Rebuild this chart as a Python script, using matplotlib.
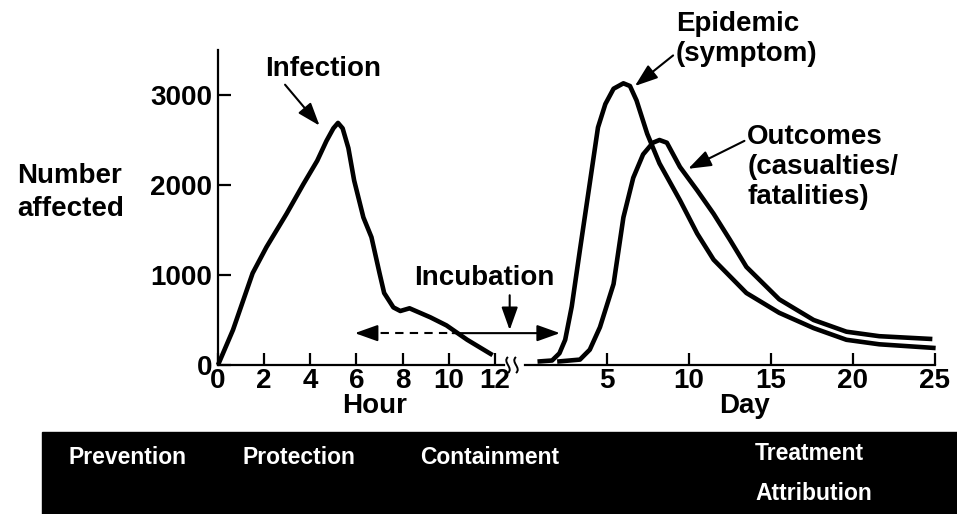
from matplotlib import pyplot as plt
from matplotlib.patches import Rectangle, PathPatch
from matplotlib.path import Path

# hours after release, number affected
infection_hours = [0, 0.65, 1.5, 2.1, 2.97, 3.7, 4.3, 4.7, 5.0, 5.2, 5.4, 5.65, 5.9,
                   6.3, 6.65, 7.0, 7.2, 7.6, 7.9, 8.3, 9.2, 9.9, 10.8, 11.9]
infection_counts = [0, 390, 1020, 1310, 1680, 2010, 2270, 2490, 2630, 2690, 2630, 2410, 2050,
                    1640, 1420, 1020, 800, 640, 600, 630, 530, 440, 280, 110]

# days after release
epidemic_days = [0.9, 1.65, 2.1, 2.45, 2.85, 3.35, 3.95, 4.45, 4.9, 5.4, 6.0, 6.4, 6.8,
                 7.45, 8.2, 9.45, 10.5, 11.5, 13.5, 15.5, 17.6, 19.6, 21.6, 24.9]
epidemic_counts = [40, 50, 130, 280, 650, 1280, 2020, 2640, 2900, 3070, 3130, 3100, 2940,
                   2570, 2240, 1830, 1460, 1170, 800, 580, 410, 280, 230, 190]

outcome_days = [2.1, 3.35, 3.95, 4.57, 5.4, 6.0, 6.6, 7.2, 7.8, 8.2, 8.65, 9.45, 10.5,
                11.5, 12.5, 13.5, 15.5, 17.6, 19.6, 21.6, 24.7]
outcome_counts = [40, 60, 170, 420, 900, 1640, 2080, 2340, 2470, 2500, 2470, 2200, 1940,
                  1680, 1390, 1090, 730, 500, 370, 320, 290]

hour_ticks = [0, 2, 4, 6, 8, 10, 12]
day_ticks = [5, 10, 15, 20, 25]
count_ticks = [0, 1000, 2000, 3000]

phases = ['Prevention', 'Protection', 'Containment', 'Treatment', 'Attribution']


def break_mark(fig, x, y):
    # small vertical squiggle, in figure pixels from the top-left
    verts = [(x, y + 8), (x + 6, y + 3), (x - 6, y - 3), (x, y - 8)]
    verts = [(vx / 957, 1 - vy / 514) for vx, vy in verts]
    path = Path(verts, [Path.MOVETO, Path.CURVE4, Path.CURVE4, Path.CURVE4])
    fig.add_artist(PathPatch(path, transform=fig.transFigure, fill=False, lw=1.4, color='black'))


def main():
    plt.rcParams['font.family'] = ['Liberation Sans', 'DejaVu Sans']
    plt.rcParams['font.weight'] = 'bold'
    plt.rcParams['font.size'] = 20

    fig = plt.figure(figsize=(9.57, 5.14), dpi=100)
    ax1 = fig.add_axes([0.2278, 0.2899, 0.299, 0.6128])
    ax2 = fig.add_axes([0.5486, 0.2899, 0.4284, 0.6128])

    for ax in (ax1, ax2):
        ax.set_ylim(0, 3500)
        ax.patch.set_alpha(0)
        for side in ('top', 'right'):
            ax.spines[side].set_visible(False)
        ax.spines['bottom'].set_linewidth(1.6)
        ax.spines['left'].set_linewidth(1.6)
        ax.tick_params(direction='in', length=9, width=1.6, labelsize=20, pad=4)

    ax1.set_xlim(0, 12.4)
    ax1.set_xticks(hour_ticks)
    ax1.set_yticks(count_ticks)
    ax1.set_yticklabels([str(v) for v in count_ticks])
    ax1.tick_params(axis='x', pad=2)

    ax2.set_xlim(0, 25)
    ax2.set_xticks(day_ticks)
    ax2.spines['left'].set_visible(False)
    ax2.set_yticks([])
    ax2.tick_params(axis='x', pad=2)

    ax1.plot(infection_hours, infection_counts, color='black', lw=3.3,
             solid_joinstyle='round', solid_capstyle='butt', clip_on=False)
    ax2.plot(epidemic_days, epidemic_counts, color='black', lw=3.3,
             solid_joinstyle='round', clip_on=False)
    ax2.plot(outcome_days, outcome_counts, color='black', lw=3.3,
             solid_joinstyle='round', clip_on=False)

    ax1.text(6.8, -460, 'Hour', ha='center', va='center', fontsize=20)
    ax2.text(13.4, -460, 'Day', ha='center', va='center', fontsize=20)
    fig.text(17 / 957, 1 - 176 / 514, 'Number', ha='left', va='center', fontsize=20)
    fig.text(17 / 957, 1 - 209 / 514, 'affected', ha='left', va='center', fontsize=20)

    head = dict(arrowstyle='-|>,head_length=0.7,head_width=0.25', color='black', lw=1.5)

    # curve labels
    ax1.annotate('Infection', xy=(4.4, 2660), xytext=(2.05, 3290), ha='left', va='center',
                 arrowprops=dict(head, shrinkA=0, shrinkB=0, relpos=(0.15, 0.0)),
                 annotation_clip=False)
    ax2.annotate('Epidemic\n(symptom)', xy=(6.7, 3100), xytext=(9.2, 3620), ha='left',
                 va='center', linespacing=1.2,
                 arrowprops=dict(head, shrinkA=0, shrinkB=0, relpos=(0.0, 0.25)),
                 annotation_clip=False)
    ax2.annotate('Outcomes\n(casualties/\nfatalities)', xy=(9.95, 2180), xytext=(13.55, 2200),
                 ha='left', va='center', linespacing=1.2,
                 arrowprops=dict(head, shrinkA=0, shrinkB=0, relpos=(0.0, 0.82)),
                 annotation_clip=False)

    # incubation period arrow
    ax1.text(11.56, 963, 'Incubation', ha='center', va='center', fontsize=20)
    ax1.annotate('', xy=(12.64, 388), xytext=(12.64, 775), arrowprops=dict(head, shrinkA=0, shrinkB=0),
                 annotation_clip=False)
    ax1.plot([6.4, 10.17], [354, 354], color='black', lw=1.5, ls=(0, (4, 3)))
    ax1.annotate('', xy=(5.93, 354), xytext=(6.5, 354), arrowprops=dict(head, shrinkA=0, shrinkB=0))
    ax1.annotate('', xy=(2.13, 354), xycoords=ax2.transData, xytext=(10.17, 354),
                 textcoords=ax1.transData, arrowprops=dict(head, shrinkA=0, shrinkB=0))

    # axis break
    break_mark(fig, 508, 365)
    break_mark(fig, 516, 365)

    # phases band
    fig.add_artist(Rectangle((42 / 957, 0), 1 - 42 / 957, 1 - 432 / 514,
                             transform=fig.transFigure, color='black', zorder=0))
    band_x = [68, 243, 420, 755, 755]
    band_y = [457, 457, 457, 453, 494]
    for label, x, y in zip(phases, band_x, band_y):
        fig.text(x / 957, 1 - y / 514, label, color='white', fontsize=16.5,
                 ha='left', va='center')

    fig.savefig('out.png', dpi=100)


if __name__ == '__main__':
    main()
